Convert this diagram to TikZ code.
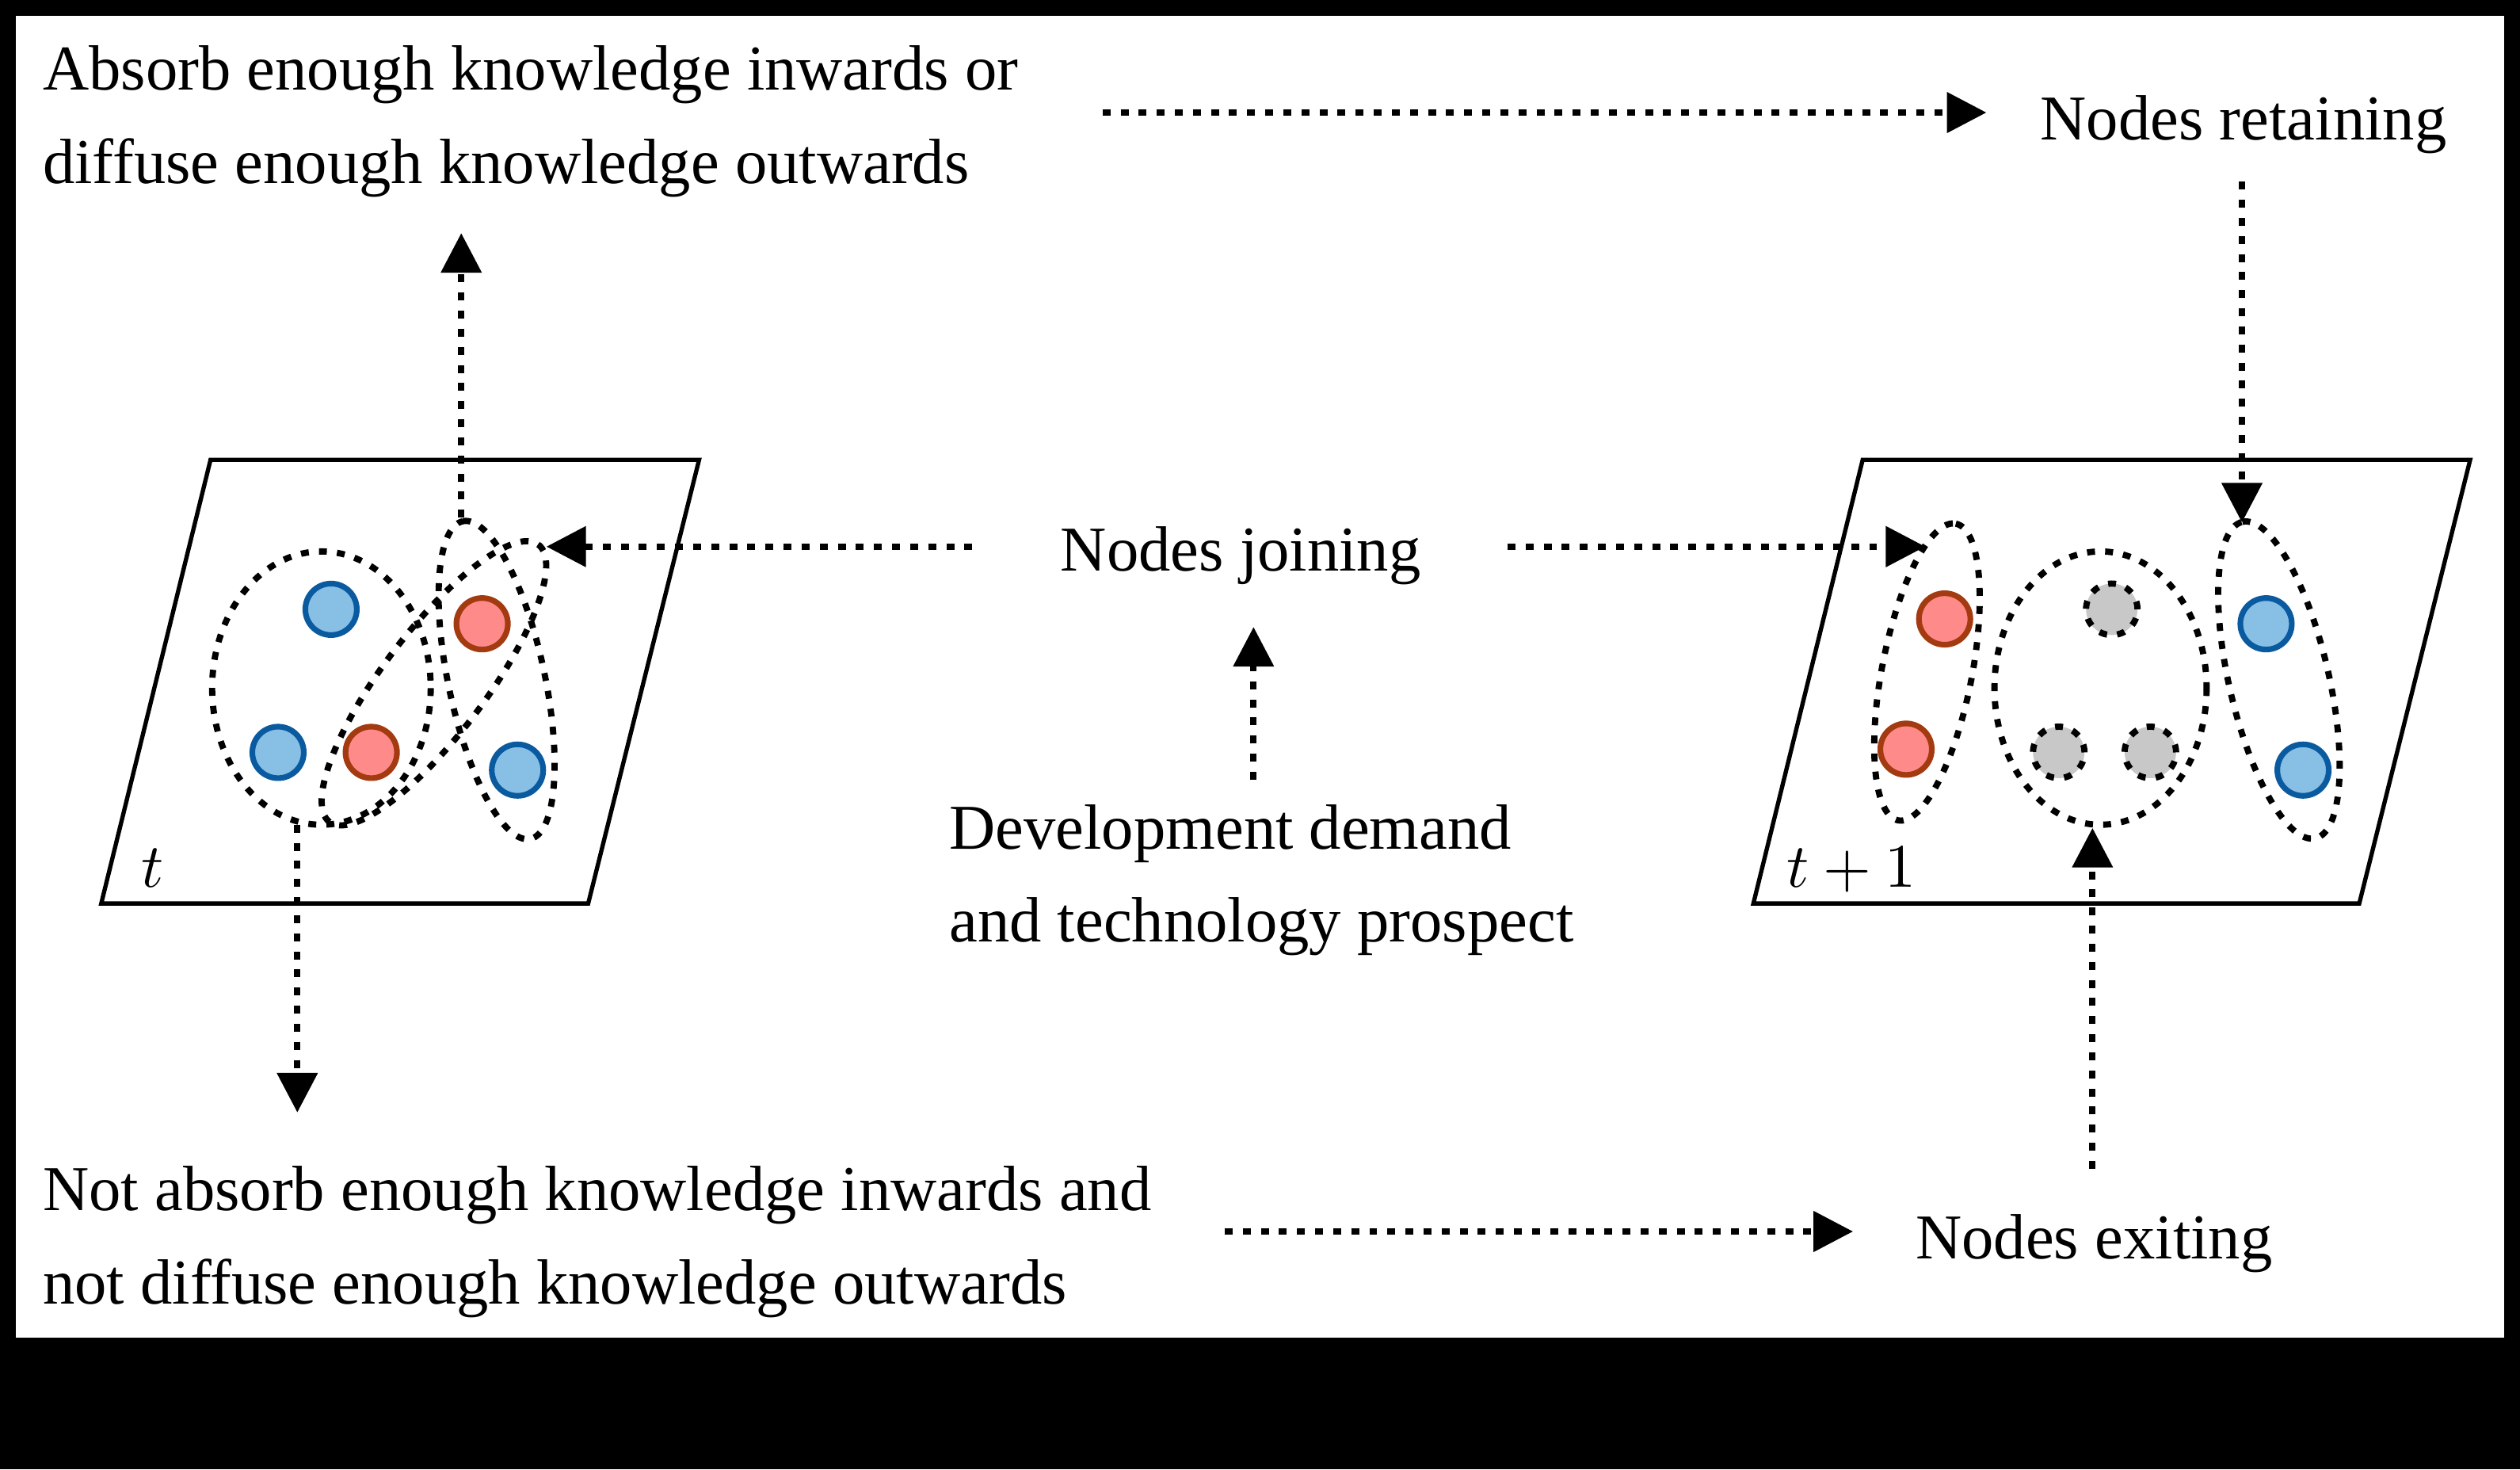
\documentclass[tikz,border=0pt]{standalone}
\usepackage{fontspec}
\setmainfont{Liberation Serif}
\usetikzlibrary{arrows.meta}
\definecolor{bfill}{HTML}{88BFE5}
\definecolor{bdraw}{HTML}{0A5AA0}
\definecolor{rfill}{HTML}{FF8A8A}
\definecolor{rdraw}{HTML}{A33A10}
\definecolor{gfill}{HTML}{C8C8C8}
\begin{document}
\begin{tikzpicture}[x=0.01cm,y=-0.01cm,
  dot/.style={line width=1.1pt,dash pattern=on 1.4pt off 1.8pt},
  arr/.style={dot,-{Triangle[length=7pt,width=7pt]}},
  plane/.style={line width=0.75pt},
  bl/.style={circle,draw=bdraw,fill=bfill,line width=1pt,minimum size=0.32cm,inner sep=0},
  rd/.style={circle,draw=rdraw,fill=rfill,line width=1pt,minimum size=0.32cm,inner sep=0},
  gr/.style={circle,draw=black,fill=gfill,dot,minimum size=0.32cm,inner sep=0},
  lbl/.style={font=\fontsize{11.3pt}{16.5pt}\selectfont,inner sep=0,align=left}]
\fill[black] (0,0) rectangle (1568,914);
\fill[white] (10,10) rectangle (1558,832);
\useasboundingbox (0,0) rectangle (1568,914);
% planes
\draw[plane] (131,286) -- (435,286) -- (366,562) -- (63,562) -- cycle;
\draw[plane] (1159,286) -- (1537,286) -- (1468,562) -- (1091,562) -- cycle;
\node[lbl,anchor=base] (tl) at (95,552) {$t$};
\node[lbl,anchor=base] (tl2) at (1152,552) {$t+1$};
% left group
\node[bl] (l1) at (206,379) {};
\node[bl] (l2) at (173,468) {};
\node[rd] (l3) at (300,388) {};
\node[rd] (l4) at (231,468) {};
\node[bl] (l5) at (322,479) {};
\draw[dot] (200,428) ellipse [x radius=68,y radius=85];
\draw[dot] (270,425) ellipse [x radius=108,y radius=32,rotate=53];
\draw[dot] (309,423) ellipse [x radius=101,y radius=30,rotate=102];
% right group
\node[rd] (r1) at (1210,385) {};
\node[rd] (r2) at (1186,466) {};
\node[gr] (g1) at (1314,379) {};
\node[gr] (g2) at (1281,468) {};
\node[gr] (g3) at (1338,468) {};
\node[bl] (r3) at (1410,388) {};
\node[bl] (r4) at (1433,479) {};
\draw[dot] (1199,418) ellipse [x radius=94,y radius=28,rotate=79];
\draw[dot] (1307,428) ellipse [x radius=66,y radius=85];
\draw[dot] (1418,423) ellipse [x radius=101,y radius=31,rotate=103];
% texts
\node[lbl,anchor=base west] (absorb) at (26,114) {Absorb enough knowledge inwards or\\diffuse enough knowledge outwards};
\node[lbl,anchor=base] (ret) at (1396,87) {Nodes retaining};
\node[lbl,anchor=base] (join) at (772,355) {Nodes joining};
\node[lbl,anchor=base west] (dev) at (590,586) {Development demand\\and technology prospect};
\node[lbl,anchor=base west] (not) at (26,811) {Not absorb enough knowledge inwards and\\not diffuse enough knowledge outwards};
\node[lbl,anchor=base] (exit) at (1303,783) {Nodes exiting};
% arrow endpoints
\coordinate (a1s) at (686,70); \coordinate (a1e) at (1236,70);
\coordinate (a2s) at (1395,113); \coordinate (a2e) at (1395,325);
\coordinate (a3s) at (605,340); \coordinate (a3e) at (340,340);
\coordinate (a4s) at (938,340); \coordinate (a4e) at (1198,340);
\coordinate (a5s) at (780,485); \coordinate (a5e) at (780,390);
\coordinate (a6s) at (287,322); \coordinate (a6e) at (287,145);
\coordinate (a7s) at (185,513); \coordinate (a7e) at (185,692);
\coordinate (a8s) at (762,766); \coordinate (a8e) at (1153,766);
\coordinate (a9s) at (1302,727); \coordinate (a9e) at (1302,515);
\foreach \i in {1,...,9} \draw[arr] (a\i s) -- (a\i e);
\end{tikzpicture}
\end{document}
